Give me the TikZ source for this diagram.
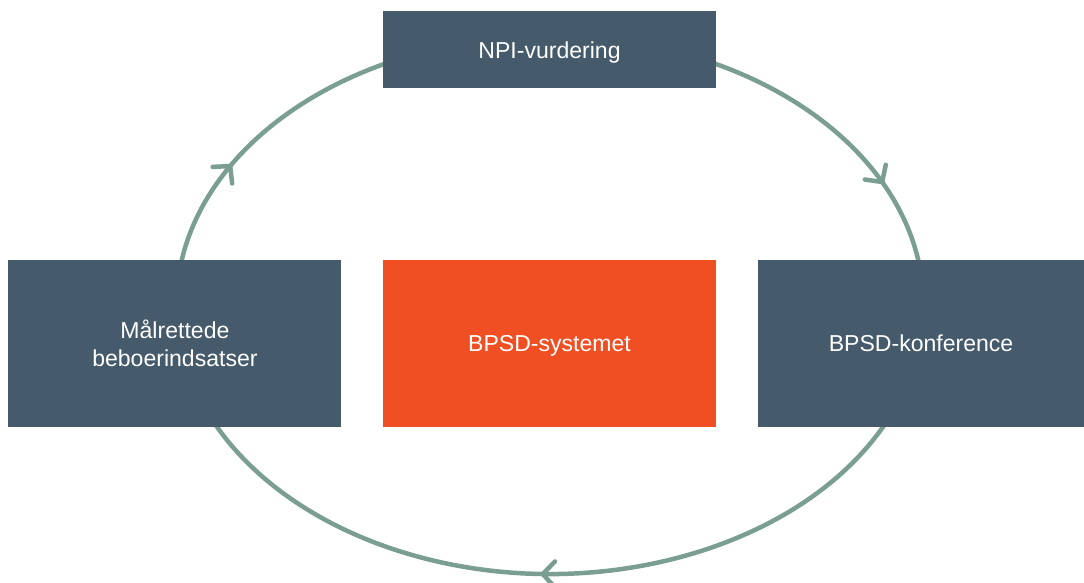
\documentclass[tikz,border=0pt]{standalone}
\usepackage{fontspec}
\setmainfont{Liberation Sans}
\usetikzlibrary{positioning,arrows.meta,decorations.markings,backgrounds}
\definecolor{slate}{HTML}{455A6A}
\definecolor{bpsdorange}{HTML}{F04E23}
\definecolor{cyclegreen}{HTML}{7A9E92}

\begin{document}
\begin{tikzpicture}[node distance=1.025cm, auto,
    box/.style={rectangle, fill=slate, text=white, minimum width=8.325cm, minimum height=4.175cm,
      inner sep=0pt, align=center, font=\fontsize{16.4}{19.5}\selectfont},
    loopline/.style={draw=cyclegreen, line width=3.2pt},
    tip at/.style={postaction={decorate}, decoration={markings,
      mark=at position #1 with {\arrow[cyclegreen]{Straight Barb[length=3mm,width=6.4mm,round]}}}}]
    \useasboundingbox (0,0) rectangle (27.1,-14.575);
    % Define nodes
    \node [box, fill=bpsdorange, text depth=0pt] (bpsd) at (13.7375,-8.5875) {BPSD-systemet};
    \node [box, left=of bpsd] (maal) {Målrettede\\beboerindsatser};
    \node [box, right=of bpsd, minimum width=8.175cm] (konf) {BPSD-konference};
    \node [box, minimum height=1.925cm, text depth=0pt, above=4.275cm of bpsd] (npi) {NPI-vurdering};
    \coordinate (mid) at (13.75,-7.625);

    % Draw edges
    \begin{scope}[on background layer, x radius=9.3375cm, y radius=6.725cm]
        \draw [loopline, tip at=0.355] (mid) ++(172:9.3375cm and 6.725cm) arc [start angle=172, end angle=112];
        \draw [loopline, tip at=0.72] (mid) ++(68:9.3375cm and 6.725cm) arc [start angle=68, end angle=8];
        \draw [loopline, tip at=0.512] (mid) ++(-23:9.3375cm and 6.725cm) arc [start angle=-23, end angle=-157];
    \end{scope}
\end{tikzpicture}
\end{document}
